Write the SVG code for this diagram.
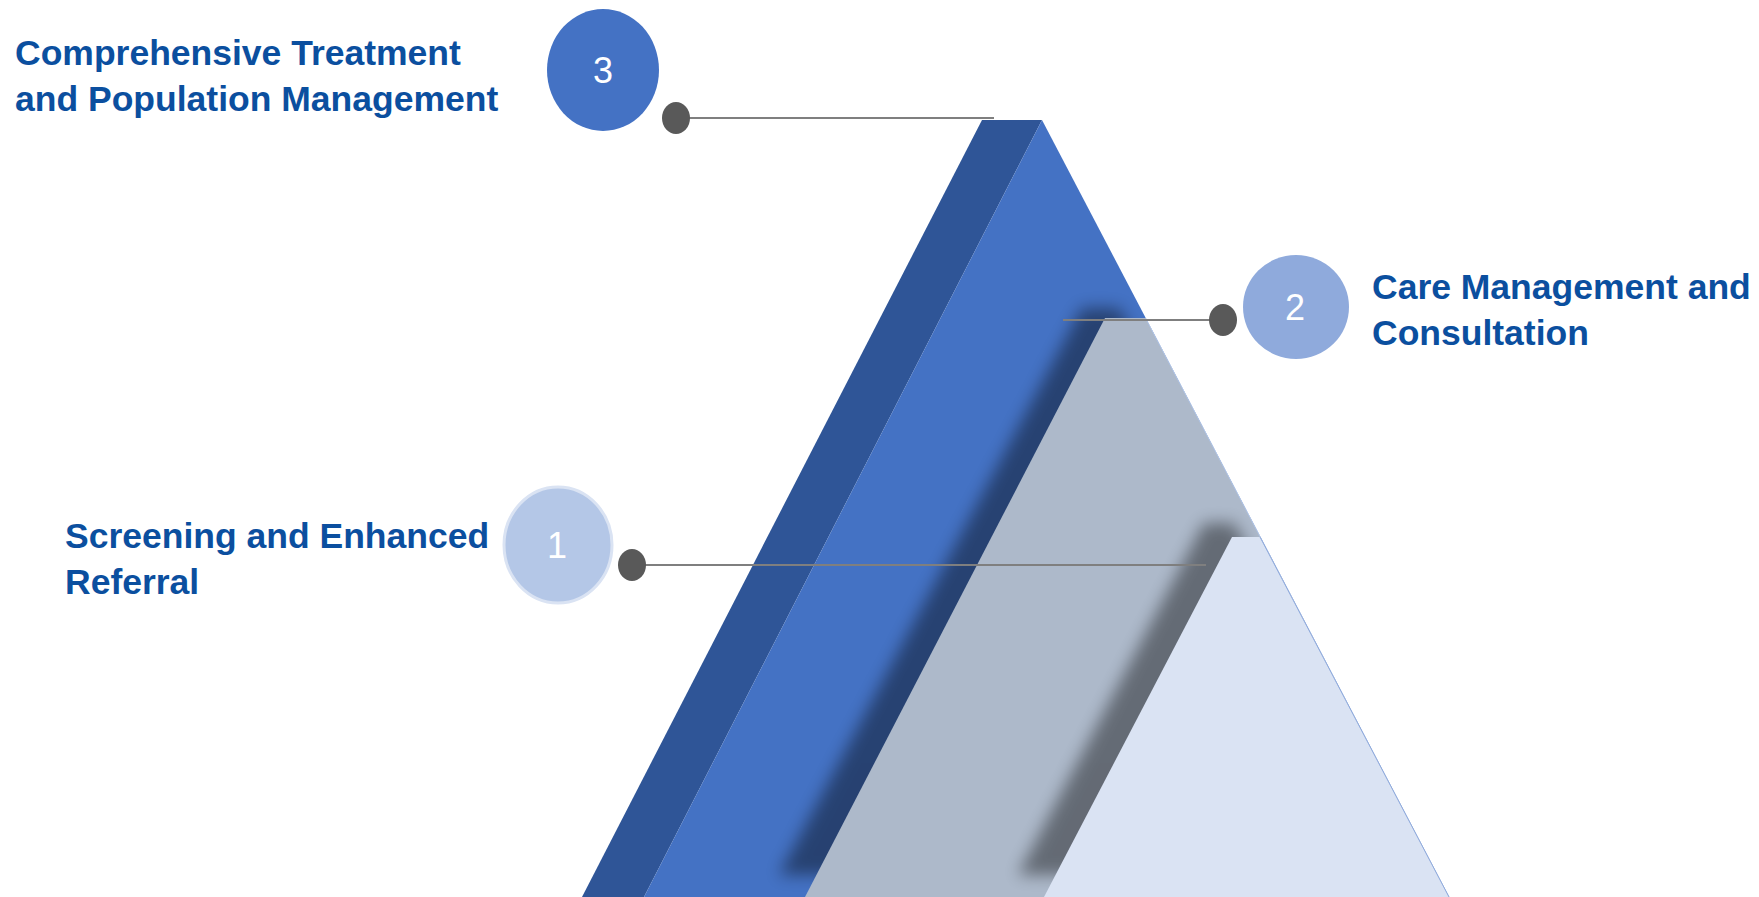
<svg xmlns="http://www.w3.org/2000/svg" width="1759" height="897" viewBox="0 0 1759 897">
<style>
.lbl{font-family:"Liberation Sans",Arial,sans-serif;font-weight:bold;font-size:35.5px;fill:#0b4f9f}
.num{font-family:"Liberation Sans",Arial,sans-serif;font-size:36px;fill:#ffffff;text-anchor:middle}
.conn{stroke:#7f7f7f;stroke-width:2;fill:none}
.dot{fill:#595959}
</style>
<defs>
<filter id="blur" x="-20%" y="-20%" width="140%" height="140%"><feGaussianBlur stdDeviation="8"/></filter>
<clipPath id="pyr"><polygon points="982,120 1042,120 1449,897 582,897"/></clipPath>
</defs>
<rect width="1759" height="897" fill="#ffffff"/>
<g id="pyramid">
<polygon points="982,120 1042,120 644,897 582,897" fill="#2f5597"/>
<polygon points="1042,120 1449,897 644,897" fill="#4472c4"/>
<g clip-path="url(#pyr)">
<polygon points="1108,330 1145,330 1449,897 805,897" transform="translate(-26,-22)" fill="#000" opacity="0.42" filter="url(#blur)"/>
</g>
<polygon points="1105,318 1145.5,318 1449,897 805,897" fill="#adb9ca"/>
<line x1="1145.5" y1="318" x2="1449" y2="897" stroke="#b4c7e7" stroke-width="1"/>
<g clip-path="url(#pyr)">
<polygon points="1230,545 1260,545 1449,897 1044,897" transform="translate(-26,-22)" fill="#000" opacity="0.42" filter="url(#blur)"/>
</g>
<polygon points="1232,537 1260,537 1449,897 1044,897" fill="#dae3f3"/>
<line x1="1260" y1="537" x2="1449" y2="897" stroke="#8faadc" stroke-width="1"/>
</g>
<g id="connectors">
<line class="conn" x1="676" y1="118" x2="994" y2="118"/>
<ellipse class="dot" cx="676" cy="118" rx="14" ry="16"/>
<line class="conn" x1="1063" y1="320" x2="1223" y2="320"/>
<ellipse class="dot" cx="1223" cy="320" rx="14" ry="16"/>
<line class="conn" x1="632" y1="565" x2="1206" y2="565"/>
<ellipse class="dot" cx="632" cy="565" rx="14" ry="16"/>
</g>
<g id="node-3">
<ellipse cx="603" cy="70" rx="56" ry="61" fill="#4472c4"/>
<text class="num" x="603" y="83">3</text>
<text class="lbl" x="15" y="65">Comprehensive Treatment</text>
<text class="lbl" x="15" y="111">and Population Management</text>
</g>
<g id="node-2">
<ellipse cx="1296" cy="307" rx="53" ry="52" fill="#8faadc"/>
<text class="num" x="1295" y="320">2</text>
<text class="lbl" x="1372" y="299">Care Management and</text>
<text class="lbl" x="1372" y="345">Consultation</text>
</g>
<g id="node-1">
<ellipse cx="558" cy="545" rx="54" ry="58" fill="#b4c7e7" stroke="#dae3f3" stroke-width="3"/>
<text class="num" x="557" y="558">1</text>
<text class="lbl" x="65" y="548">Screening and Enhanced</text>
<text class="lbl" x="65" y="594">Referral</text>
</g>
</svg>
